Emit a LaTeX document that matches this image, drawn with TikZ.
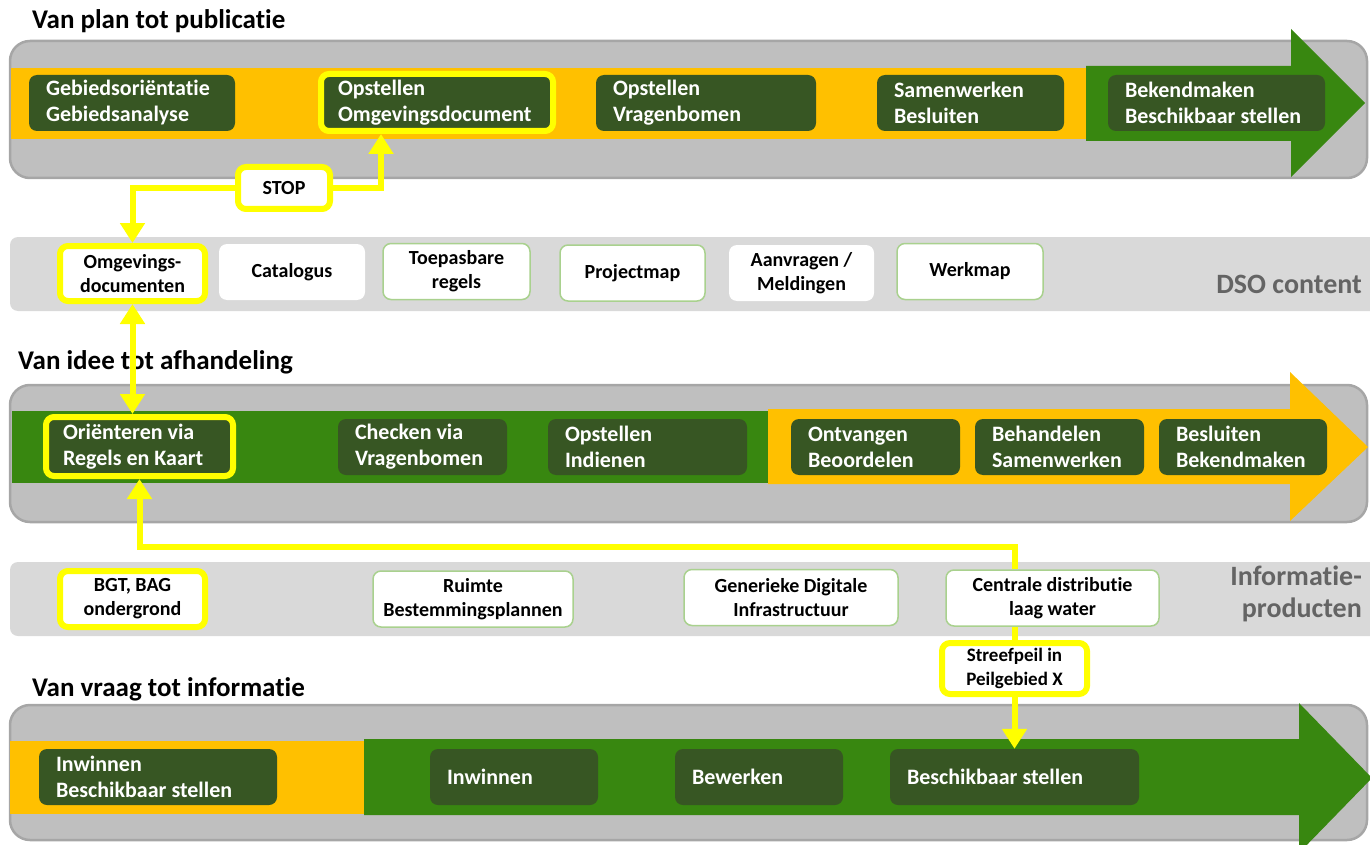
\documentclass[tikz,border=0pt]{standalone}
\usepackage{fontspec}
\setmainfont{Carlito}[RawFeature={-liga;-clig;-calt;-dlig}]
\usepackage{tikz}
\usetikzlibrary{arrows.meta,positioning,calc}
\definecolor{bandgray}{RGB}{191,191,191}
\definecolor{bandedge}{RGB}{166,166,166}
\definecolor{infogray}{RGB}{217,217,217}
\definecolor{dsoorange}{RGB}{255,192,0}
\definecolor{dsogreen}{RGB}{56,135,16}
\definecolor{darkgreen}{RGB}{55,86,35}
\definecolor{dsoyellow}{RGB}{255,255,0}
\definecolor{palegreen}{RGB}{169,209,142}
\definecolor{labelgray}{RGB}{100,100,100}
\tikzset{
    link/.style={draw=dsoyellow, line width=6pt},
    linkto/.style={link, -{Triangle[length=20pt, width=24pt]}},
    linkboth/.style={link, {Triangle[length=20pt, width=24pt]}-{Triangle[length=20pt, width=24pt]}}
}
\begin{document}
\begin{tikzpicture}[
            x=1pt, y=-1pt,
            font=\bfseries,
            band/.style={fill=bandgray, draw=bandedge, line width=2.5pt, rounded corners=20pt},
            stage/.style={rectangle, rounded corners=8pt, fill=darkgreen, text=white, minimum height=56pt, inner xsep=17pt, inner ysep=2pt, align=flush left, font=\bfseries\fontsize{22}{26}\selectfont},
            product/.style={rectangle, rounded corners=8pt, fill=white, draw=palegreen, line width=1.5pt, minimum height=56pt, inner ysep=2pt, align=flush center, font=\bfseries\fontsize{20}{24}\selectfont},
            picked/.style={draw=dsoyellow, line width=6pt},
            title/.style={anchor=west, inner sep=0pt, font=\bfseries\fontsize{27}{30}\selectfont},
            sidelabel/.style={anchor=east, inner sep=0pt, text=labelgray, align=flush right, font=\bfseries\fontsize{28}{32}\selectfont}
        ]
            \useasboundingbox (0,0) rectangle (1370,845);

            % Van plan tot publicatie
            \node[title] (plantitle) at (32,21) {Van plan tot publicatie};
            \draw[band] (10,41) rectangle (1367,178);
            \fill[dsoorange] (11,68) rectangle (1086,139);
            \fill[dsogreen] (1086,66) -- (1291,66) -- (1291,29) -- (1365,103) -- (1291,177) -- (1291,141) -- (1086,141) -- cycle;
            \node[stage, text width=172pt] (gebied) at (132,103) {Gebiedsoriëntatie\\Gebiedsanalyse};
            \node[stage, picked, text width=198pt, minimum height=57pt] (opstel) at (437,102.5) {Opstellen\\Omgevingsdocument};
            \node[stage, text width=186pt] (vragen) at (706,103) {Opstellen\\Vragenbomen};
            \node[stage, text width=153pt] (samen) at (970.5,103) {Samenwerken\\Besluiten};
            \node[stage, text width=183pt] (bekend) at (1216.5,103) {Bekendmaken\\Beschikbaar~stellen};

            % STOP
            \node[product, picked, minimum width=92pt, minimum height=42pt] (stop) at (284,188) {STOP};

            % DSO content
            \fill[infogray, rounded corners=8pt] (10,237) rectangle (1380,311);
            \node[sidelabel] (dsolabel) at (1362,284) {DSO content};
            \node[product, picked, minimum width=145pt, minimum height=55pt] (omgdoc) at (132.5,273.5) {Omgevings-\\documenten};
            \node[product, draw=none, minimum width=146pt] (catalogus) at (292,272) {Catalogus};
            \node[product, minimum width=147pt] (toepas) at (456.5,271.5) {Toepasbare\\regels};
            \node[product, minimum width=145pt] (projmap) at (632.5,273) {Projectmap};
            \node[product, draw=none, minimum width=145pt] (aanvr) at (801.5,273) {Aanvragen /\\Meldingen};
            \node[product, minimum width=146pt] (werkmap) at (970,271.5) {Werkmap};

            % Van idee tot afhandeling
            \node[title] (ideetitle) at (18,362) {Van idee tot afhandeling};
            \draw[band] (10,385) rectangle (1367,522);
            \fill[dsogreen] (12,411) rectangle (768,483);
            \fill[dsoorange] (768,409) -- (1290,409) -- (1290,372) -- (1368,447) -- (1290,521) -- (1290,484) -- (768,484) -- cycle;
            \node[stage, picked, text width=153pt, minimum height=59pt] (orient) at (139.5,446.5) {Oriënteren~via\\Regels~en~Kaart};
            \node[stage, text width=135pt] (checken) at (422.5,447) {Checken~via\\Vragenbomen};
            \node[stage, text width=165pt] (indienen) at (647.5,447) {Opstellen\\Indienen};
            \node[stage, text width=135pt] (ontvangen) at (875.5,447) {Ontvangen\\Beoordelen};
            \node[stage, text width=135pt] (behandel) at (1059.5,447) {Behandelen\\Samenwerken};
            \node[stage, text width=134pt] (besluit) at (1243,447) {Besluiten\\Bekendmaken};

            % Informatieproducten
            \fill[infogray, rounded corners=8pt] (10,562) rectangle (1380,636);
            \node[sidelabel] (infolabel) at (1362,594) {Informatie-\\producten};
            \node[product, picked, minimum width=145pt] (bgt) at (132.5,599) {BGT, BAG\\ondergrond};
            \node[product, minimum width=200pt] (ruimte) at (473,599) {Ruimte\\Bestemmingsplannen};
            \node[product, minimum width=214pt] (gdi) at (791,597.5) {Generieke Digitale\\Infrastructuur};
            \node[product, minimum width=213pt] (centraal) at (1052.5,598) {Centrale distributie\\laag water};
            \node[product, picked, minimum width=145pt, minimum height=51pt, font=\bfseries\fontsize{19}{24}\selectfont] (streefpeil) at (1014.5,668.5) {Streefpeil in\\Peilgebied X};

            % Van vraag tot informatie
            \node[title] (vraagtitle) at (32,689) {Van vraag tot informatie};
            \draw[band] (10,705) rectangle (1367,840);
            \fill[dsoorange] (10,741) rectangle (364,814);
            \fill[dsogreen] (364,739) -- (1299,739) -- (1299,703) -- (1372,778) -- (1299,853) -- (1299,815) -- (364,815) -- cycle;
            \node[stage, text width=204pt] (inwbes) at (158,777) {Inwinnen\\Beschikbaar~stellen};
            \node[stage, text width=134pt] (inwinnen) at (514,777) {Inwinnen};
            \node[stage, text width=134pt] (bewerken) at (759,777) {Bewerken};
            \node[stage, text width=215pt] (beschik) at (1014.5,777) {Beschikbaar~stellen};

            % Links
            \draw[linkto] (stop.east) -| ([xshift=-56pt]opstel.south);
            \draw[linkto] (stop.west) -| (omgdoc.north);
            \draw[linkboth] (omgdoc.south) -- (omgdoc.south |- orient.north);
            \draw[link] (streefpeil.north) -- (streefpeil.north |- centraal.south);
            \draw[linkto] (streefpeil.north |- centraal.north) -- ++(0,-22) -| (orient.south);
            \draw[linkto] (streefpeil.south) -- (streefpeil.south |- beschik.north);
        \end{tikzpicture}
\end{document}
